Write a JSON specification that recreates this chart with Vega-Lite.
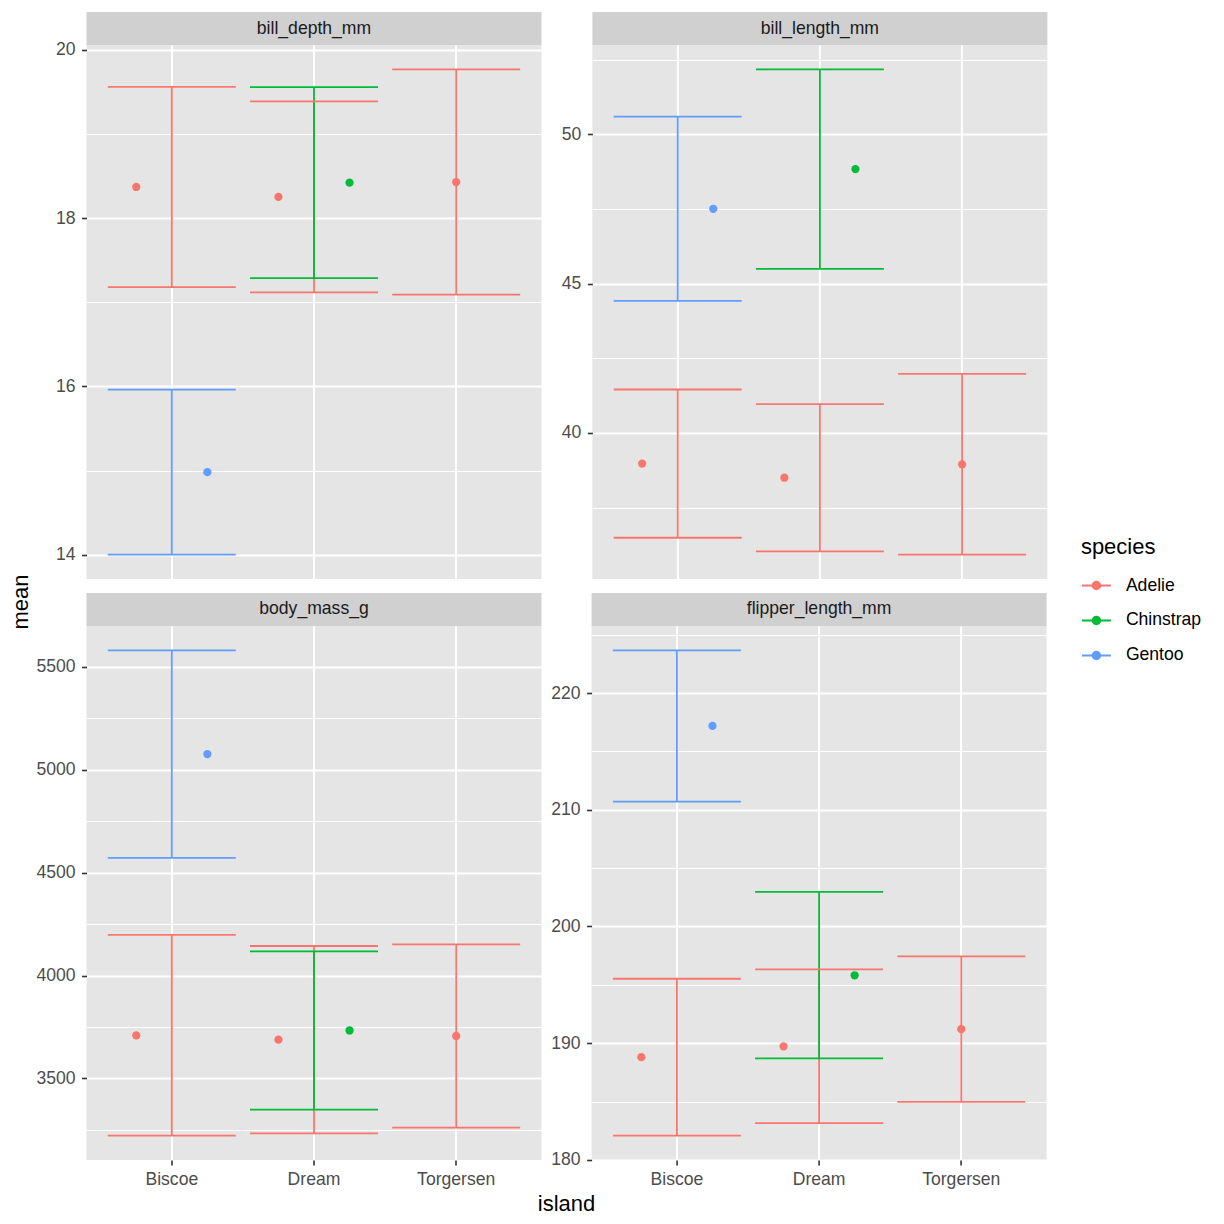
{
  "$schema": "https://vega.github.io/schema/vega-lite/v6.json",
  "padding": {"left": 10.4, "top": 12, "right": 0, "bottom": 0},
  "config": {
    "font": "Liberation Sans",
    "view": {"fill": "#E5E5E5", "stroke": null},
    "axis": {"domain": false, "gridColor": "#FFFFFF", "tickColor": "#333333", "tickSize": 5, "tickWidth": 1.6, "labelFontSize": 17.6, "labelColor": "#4D4D4D", "labelPadding": 6, "titleFontSize": 22, "titleFontWeight": "normal", "titleColor": "#000000", "labelOverlap": false},
    "axisY": {"labelPadding": 6.5},
    "legend": {"titleFontSize": 22, "titleFontWeight": "normal", "titleColor": "#000000", "labelFontSize": 17.6, "labelColor": "#000000", "symbolSize": 841, "rowPadding": 10, "labelOffset": 14, "titlePadding": 11, "symbolType": "M-1,0H1M-0.26,0A0.26,0.26,0,1,0,0.26,0A0.26,0.26,0,1,0,-0.26,0"}
  },
  "data": {"values": [
    {"variable": "bill_depth_mm", "island": "Biscoe", "species": "Adelie", "mean": 18.370, "lower": 17.181, "upper": 19.559},
    {"variable": "bill_depth_mm", "island": "Biscoe", "species": "Gentoo", "mean": 14.982, "lower": 14.001, "upper": 15.963},
    {"variable": "bill_depth_mm", "island": "Dream", "species": "Adelie", "mean": 18.252, "lower": 17.118, "upper": 19.386},
    {"variable": "bill_depth_mm", "island": "Dream", "species": "Chinstrap", "mean": 18.421, "lower": 17.286, "upper": 19.556},
    {"variable": "bill_depth_mm", "island": "Torgersen", "species": "Adelie", "mean": 18.429, "lower": 17.090, "upper": 19.768},
    {"variable": "bill_length_mm", "island": "Biscoe", "species": "Adelie", "mean": 38.975, "lower": 36.494, "upper": 41.456},
    {"variable": "bill_length_mm", "island": "Biscoe", "species": "Gentoo", "mean": 47.505, "lower": 44.423, "upper": 50.587},
    {"variable": "bill_length_mm", "island": "Dream", "species": "Adelie", "mean": 38.502, "lower": 36.037, "upper": 40.967},
    {"variable": "bill_length_mm", "island": "Dream", "species": "Chinstrap", "mean": 48.834, "lower": 45.495, "upper": 52.173},
    {"variable": "bill_length_mm", "island": "Torgersen", "species": "Adelie", "mean": 38.951, "lower": 35.926, "upper": 41.976},
    {"variable": "body_mass_g", "island": "Biscoe", "species": "Adelie", "mean": 3709.7, "lower": 3221.9, "upper": 4197.4},
    {"variable": "body_mass_g", "island": "Biscoe", "species": "Gentoo", "mean": 5076.0, "lower": 4571.9, "upper": 5580.1},
    {"variable": "body_mass_g", "island": "Dream", "species": "Adelie", "mean": 3688.4, "lower": 3233.2, "upper": 4143.5},
    {"variable": "body_mass_g", "island": "Dream", "species": "Chinstrap", "mean": 3733.1, "lower": 3348.8, "upper": 4117.4},
    {"variable": "body_mass_g", "island": "Torgersen", "species": "Adelie", "mean": 3706.4, "lower": 3261.3, "upper": 4151.5},
    {"variable": "flipper_length_mm", "island": "Biscoe", "species": "Adelie", "mean": 188.80, "lower": 182.07, "upper": 195.52},
    {"variable": "flipper_length_mm", "island": "Biscoe", "species": "Gentoo", "mean": 217.19, "lower": 210.70, "upper": 223.67},
    {"variable": "flipper_length_mm", "island": "Dream", "species": "Adelie", "mean": 189.73, "lower": 183.15, "upper": 196.32},
    {"variable": "flipper_length_mm", "island": "Dream", "species": "Chinstrap", "mean": 195.82, "lower": 188.69, "upper": 202.96},
    {"variable": "flipper_length_mm", "island": "Torgersen", "species": "Adelie", "mean": 191.20, "lower": 184.96, "upper": 197.43}
  ]},
  "spacing": 3.1,
  "resolve": {"scale": {"y": "independent"}},
  "hconcat": [
    {
      "width": 20, "height": 1180,
      "view": {"fill": null, "stroke": null},
      "data": {"values": [{"label": "mean"}]},
      "mark": {"type": "text", "fontSize": 22, "color": "#000000", "angle": 270, "baseline": "middle", "align": "center"},
      "encoding": {"text": {"field": "label", "type": "nominal"}}
    },
    {
      "spacing": 0,
      "resolve": {"scale": {"y": "independent"}},
      "vconcat": [
        {
          "spacing": 14,
          "resolve": {"scale": {"y": "independent"}},
          "vconcat": [
            {
              "spacing": 18.9,
              "resolve": {"scale": {"y": "independent"}},
              "hconcat": [
                {
                  "bounds": "flush", "spacing": 0,
                  "resolve": {"scale": {"y": "independent"}},
                  "vconcat": [
                    {
                      "width": 455, "height": 33,
                      "view": {"fill": "#D0D0D0", "stroke": null},
                      "transform": [{"filter": "datum.variable == 'bill_depth_mm'"}, {"aggregate": [{"op": "count", "as": "k"}], "groupby": ["variable"]}],
                      "mark": {"type": "text", "fontSize": 17.6, "color": "#1A1A1A"},
                      "encoding": {"text": {"field": "variable", "type": "nominal"}}
                    },
                    {
                      "width": 455, "height": 534,
                      "transform": [
                        {"filter": "datum.variable == 'bill_depth_mm'"},
                        {"window": [{"op": "rank", "as": "slot"}], "groupby": ["island"], "sort": [{"field": "species"}]},
                        {"joinaggregate": [{"op": "count", "as": "n"}], "groupby": ["island"]}
                      ],
                      "encoding": {
                        "x": {"field": "island", "type": "nominal", "scale": {"paddingInner": 0.1, "paddingOuter": 0.15}, "axis": {"title": null, "labels": false, "ticks": false, "grid": true, "gridWidth": 2, "bandPosition": 0.5}},
                        "color": {"field": "species", "type": "nominal", "scale": {"domain": ["Adelie", "Chinstrap", "Gentoo"], "range": ["#F8766D", "#00BA38", "#619CFF"]}, "legend": {"orient": "none", "legendX": 1069.5, "legendY": 525, "encode": {"symbols": {"update": {"stroke": {"scale": "color", "field": "value"}, "fill": {"scale": "color", "field": "value"}, "strokeWidth": {"value": 2}, "opacity": {"value": 1}}}}}}
                      },
                      "layer": [
                        {
                          "mark": {"type": "rule", "strokeWidth": 1.8},
                          "encoding": {
                            "y": {"field": "lower", "type": "quantitative", "scale": {"zero": false, "nice": false, "padding": 24.3},
                              "axis": {"title": null,
                                "values": [14, 15, 16, 17, 18, 19, 20], "format": "d",
                                "labelExpr": "datum.value % 2 == 0 ? datum.label : ''",
                                "gridWidth": {"condition": {"test": "datum.value % 2 == 0", "value": 2}, "value": 1},
                                "tickOpacity": {"condition": {"test": "datum.value % 2 == 0", "value": 1}, "value": 0}}},
                            "y2": {"field": "upper"}
                          }
                        },
                        {
                          "mark": {"type": "rule", "strokeWidth": 1.8},
                          "encoding": {"x": {"field": "island", "type": "nominal", "bandPosition": 0}, "x2": {"field": "island", "bandPosition": 1}, "y": {"field": "lower", "type": "quantitative"}}
                        },
                        {
                          "mark": {"type": "rule", "strokeWidth": 1.8},
                          "encoding": {"x": {"field": "island", "type": "nominal", "bandPosition": 0}, "x2": {"field": "island", "bandPosition": 1}, "y": {"field": "upper", "type": "quantitative"}}
                        },
                        {
                          "transform": [{"filter": "datum.n > 1"}],
                          "mark": {"type": "point", "filled": true, "opacity": 1, "size": 68},
                          "encoding": {"xOffset": {"field": "slot", "type": "ordinal", "scale": {"type": "point", "padding": 0.4}}, "y": {"field": "mean", "type": "quantitative"}}
                        },
                        {
                          "transform": [{"filter": "datum.n == 1"}],
                          "mark": {"type": "point", "filled": true, "opacity": 1, "size": 68},
                          "encoding": {"y": {"field": "mean", "type": "quantitative"}}
                        }
                      ]
                    }
                  ]
                },
                {
                  "bounds": "flush", "spacing": 0,
                  "resolve": {"scale": {"y": "independent"}},
                  "vconcat": [
                    {
                      "width": 455, "height": 33,
                      "view": {"fill": "#D0D0D0", "stroke": null},
                      "transform": [{"filter": "datum.variable == 'bill_length_mm'"}, {"aggregate": [{"op": "count", "as": "k"}], "groupby": ["variable"]}],
                      "mark": {"type": "text", "fontSize": 17.6, "color": "#1A1A1A"},
                      "encoding": {"text": {"field": "variable", "type": "nominal"}}
                    },
                    {
                      "width": 455, "height": 534,
                      "transform": [
                        {"filter": "datum.variable == 'bill_length_mm'"},
                        {"window": [{"op": "rank", "as": "slot"}], "groupby": ["island"], "sort": [{"field": "species"}]},
                        {"joinaggregate": [{"op": "count", "as": "n"}], "groupby": ["island"]}
                      ],
                      "encoding": {
                        "x": {"field": "island", "type": "nominal", "scale": {"paddingInner": 0.1, "paddingOuter": 0.15}, "axis": {"title": null, "labels": false, "ticks": false, "grid": true, "gridWidth": 2, "bandPosition": 0.5}},
                        "color": {"field": "species", "type": "nominal", "scale": {"domain": ["Adelie", "Chinstrap", "Gentoo"], "range": ["#F8766D", "#00BA38", "#619CFF"]}, "legend": {"orient": "none", "legendX": 1069.5, "legendY": 525, "encode": {"symbols": {"update": {"stroke": {"scale": "color", "field": "value"}, "fill": {"scale": "color", "field": "value"}, "strokeWidth": {"value": 2}, "opacity": {"value": 1}}}}}}
                      },
                      "layer": [
                        {
                          "mark": {"type": "rule", "strokeWidth": 1.8},
                          "encoding": {
                            "y": {"field": "lower", "type": "quantitative", "scale": {"zero": false, "nice": false, "padding": 24.3},
                              "axis": {"title": null,
                                "values": [37.5, 40, 42.5, 45, 47.5, 50, 52.5], "format": "d",
                                "labelExpr": "datum.value % 5 == 0 ? datum.label : ''",
                                "gridWidth": {"condition": {"test": "datum.value % 5 == 0", "value": 2}, "value": 1},
                                "tickOpacity": {"condition": {"test": "datum.value % 5 == 0", "value": 1}, "value": 0}}},
                            "y2": {"field": "upper"}
                          }
                        },
                        {
                          "mark": {"type": "rule", "strokeWidth": 1.8},
                          "encoding": {"x": {"field": "island", "type": "nominal", "bandPosition": 0}, "x2": {"field": "island", "bandPosition": 1}, "y": {"field": "lower", "type": "quantitative"}}
                        },
                        {
                          "mark": {"type": "rule", "strokeWidth": 1.8},
                          "encoding": {"x": {"field": "island", "type": "nominal", "bandPosition": 0}, "x2": {"field": "island", "bandPosition": 1}, "y": {"field": "upper", "type": "quantitative"}}
                        },
                        {
                          "transform": [{"filter": "datum.n > 1"}],
                          "mark": {"type": "point", "filled": true, "opacity": 1, "size": 68},
                          "encoding": {"xOffset": {"field": "slot", "type": "ordinal", "scale": {"type": "point", "padding": 0.4}}, "y": {"field": "mean", "type": "quantitative"}}
                        },
                        {
                          "transform": [{"filter": "datum.n == 1"}],
                          "mark": {"type": "point", "filled": true, "opacity": 1, "size": 68},
                          "encoding": {"y": {"field": "mean", "type": "quantitative"}}
                        }
                      ]
                    }
                  ]
                }
              ]
            },
            {
              "spacing": 9.1,
              "resolve": {"scale": {"y": "independent"}},
              "hconcat": [
                {
                  "bounds": "flush", "spacing": 0,
                  "resolve": {"scale": {"y": "independent"}},
                  "vconcat": [
                    {
                      "width": 455, "height": 33,
                      "view": {"fill": "#D0D0D0", "stroke": null},
                      "transform": [{"filter": "datum.variable == 'body_mass_g'"}, {"aggregate": [{"op": "count", "as": "k"}], "groupby": ["variable"]}],
                      "mark": {"type": "text", "fontSize": 17.6, "color": "#1A1A1A"},
                      "encoding": {"text": {"field": "variable", "type": "nominal"}}
                    },
                    {
                      "width": 455, "height": 534,
                      "transform": [
                        {"filter": "datum.variable == 'body_mass_g'"},
                        {"window": [{"op": "rank", "as": "slot"}], "groupby": ["island"], "sort": [{"field": "species"}]},
                        {"joinaggregate": [{"op": "count", "as": "n"}], "groupby": ["island"]}
                      ],
                      "encoding": {
                        "x": {"field": "island", "type": "nominal", "scale": {"paddingInner": 0.1, "paddingOuter": 0.15}, "axis": {"title": null, "labelAngle": 0, "grid": true, "gridWidth": 2, "bandPosition": 0.5}},
                        "color": {"field": "species", "type": "nominal", "scale": {"domain": ["Adelie", "Chinstrap", "Gentoo"], "range": ["#F8766D", "#00BA38", "#619CFF"]}, "legend": {"orient": "none", "legendX": 1069.5, "legendY": 525, "encode": {"symbols": {"update": {"stroke": {"scale": "color", "field": "value"}, "fill": {"scale": "color", "field": "value"}, "strokeWidth": {"value": 2}, "opacity": {"value": 1}}}}}}
                      },
                      "layer": [
                        {
                          "mark": {"type": "rule", "strokeWidth": 1.8},
                          "encoding": {
                            "y": {"field": "lower", "type": "quantitative", "scale": {"zero": false, "nice": false, "padding": 24.3},
                              "axis": {"title": null,
                                "values": [3250, 3500, 3750, 4000, 4250, 4500, 4750, 5000, 5250, 5500], "format": "d",
                                "labelExpr": "datum.value % 500 == 0 ? datum.label : ''",
                                "gridWidth": {"condition": {"test": "datum.value % 500 == 0", "value": 2}, "value": 1},
                                "tickOpacity": {"condition": {"test": "datum.value % 500 == 0", "value": 1}, "value": 0}}},
                            "y2": {"field": "upper"}
                          }
                        },
                        {
                          "mark": {"type": "rule", "strokeWidth": 1.8},
                          "encoding": {"x": {"field": "island", "type": "nominal", "bandPosition": 0}, "x2": {"field": "island", "bandPosition": 1}, "y": {"field": "lower", "type": "quantitative"}}
                        },
                        {
                          "mark": {"type": "rule", "strokeWidth": 1.8},
                          "encoding": {"x": {"field": "island", "type": "nominal", "bandPosition": 0}, "x2": {"field": "island", "bandPosition": 1}, "y": {"field": "upper", "type": "quantitative"}}
                        },
                        {
                          "transform": [{"filter": "datum.n > 1"}],
                          "mark": {"type": "point", "filled": true, "opacity": 1, "size": 68},
                          "encoding": {"xOffset": {"field": "slot", "type": "ordinal", "scale": {"type": "point", "padding": 0.4}}, "y": {"field": "mean", "type": "quantitative"}}
                        },
                        {
                          "transform": [{"filter": "datum.n == 1"}],
                          "mark": {"type": "point", "filled": true, "opacity": 1, "size": 68},
                          "encoding": {"y": {"field": "mean", "type": "quantitative"}}
                        }
                      ]
                    }
                  ]
                },
                {
                  "bounds": "flush", "spacing": 0,
                  "resolve": {"scale": {"y": "independent"}},
                  "vconcat": [
                    {
                      "width": 455, "height": 33,
                      "view": {"fill": "#D0D0D0", "stroke": null},
                      "transform": [{"filter": "datum.variable == 'flipper_length_mm'"}, {"aggregate": [{"op": "count", "as": "k"}], "groupby": ["variable"]}],
                      "mark": {"type": "text", "fontSize": 17.6, "color": "#1A1A1A"},
                      "encoding": {"text": {"field": "variable", "type": "nominal"}}
                    },
                    {
                      "width": 455, "height": 534,
                      "transform": [
                        {"filter": "datum.variable == 'flipper_length_mm'"},
                        {"window": [{"op": "rank", "as": "slot"}], "groupby": ["island"], "sort": [{"field": "species"}]},
                        {"joinaggregate": [{"op": "count", "as": "n"}], "groupby": ["island"]}
                      ],
                      "encoding": {
                        "x": {"field": "island", "type": "nominal", "scale": {"paddingInner": 0.1, "paddingOuter": 0.15}, "axis": {"title": null, "labelAngle": 0, "grid": true, "gridWidth": 2, "bandPosition": 0.5}},
                        "color": {"field": "species", "type": "nominal", "scale": {"domain": ["Adelie", "Chinstrap", "Gentoo"], "range": ["#F8766D", "#00BA38", "#619CFF"]}, "legend": {"orient": "none", "legendX": 1069.5, "legendY": 525, "encode": {"symbols": {"update": {"stroke": {"scale": "color", "field": "value"}, "fill": {"scale": "color", "field": "value"}, "strokeWidth": {"value": 2}, "opacity": {"value": 1}}}}}}
                      },
                      "layer": [
                        {
                          "mark": {"type": "rule", "strokeWidth": 1.8},
                          "encoding": {
                            "y": {"field": "lower", "type": "quantitative", "scale": {"zero": false, "nice": false, "padding": 24.3},
                              "axis": {"title": null,
                                "values": [180, 185, 190, 195, 200, 205, 210, 215, 220, 225], "format": "d",
                                "labelExpr": "datum.value % 10 == 0 ? datum.label : ''",
                                "gridWidth": {"condition": {"test": "datum.value % 10 == 0", "value": 2}, "value": 1},
                                "tickOpacity": {"condition": {"test": "datum.value % 10 == 0", "value": 1}, "value": 0}}},
                            "y2": {"field": "upper"}
                          }
                        },
                        {
                          "mark": {"type": "rule", "strokeWidth": 1.8},
                          "encoding": {"x": {"field": "island", "type": "nominal", "bandPosition": 0}, "x2": {"field": "island", "bandPosition": 1}, "y": {"field": "lower", "type": "quantitative"}}
                        },
                        {
                          "mark": {"type": "rule", "strokeWidth": 1.8},
                          "encoding": {"x": {"field": "island", "type": "nominal", "bandPosition": 0}, "x2": {"field": "island", "bandPosition": 1}, "y": {"field": "upper", "type": "quantitative"}}
                        },
                        {
                          "transform": [{"filter": "datum.n > 1"}],
                          "mark": {"type": "point", "filled": true, "opacity": 1, "size": 68},
                          "encoding": {"xOffset": {"field": "slot", "type": "ordinal", "scale": {"type": "point", "padding": 0.4}}, "y": {"field": "mean", "type": "quantitative"}}
                        },
                        {
                          "transform": [{"filter": "datum.n == 1"}],
                          "mark": {"type": "point", "filled": true, "opacity": 1, "size": 68},
                          "encoding": {"y": {"field": "mean", "type": "quantitative"}}
                        }
                      ]
                    }
                  ]
                }
              ]
            }
          ]
        },
        {
          "width": 960, "height": 30,
          "view": {"fill": null, "stroke": null},
          "data": {"values": [{"label": "island"}]},
          "mark": {"type": "text", "fontSize": 22, "color": "#000000", "baseline": "middle", "align": "center"},
          "encoding": {"text": {"field": "label", "type": "nominal"}}
        }
      ]
    }
  ]
}
